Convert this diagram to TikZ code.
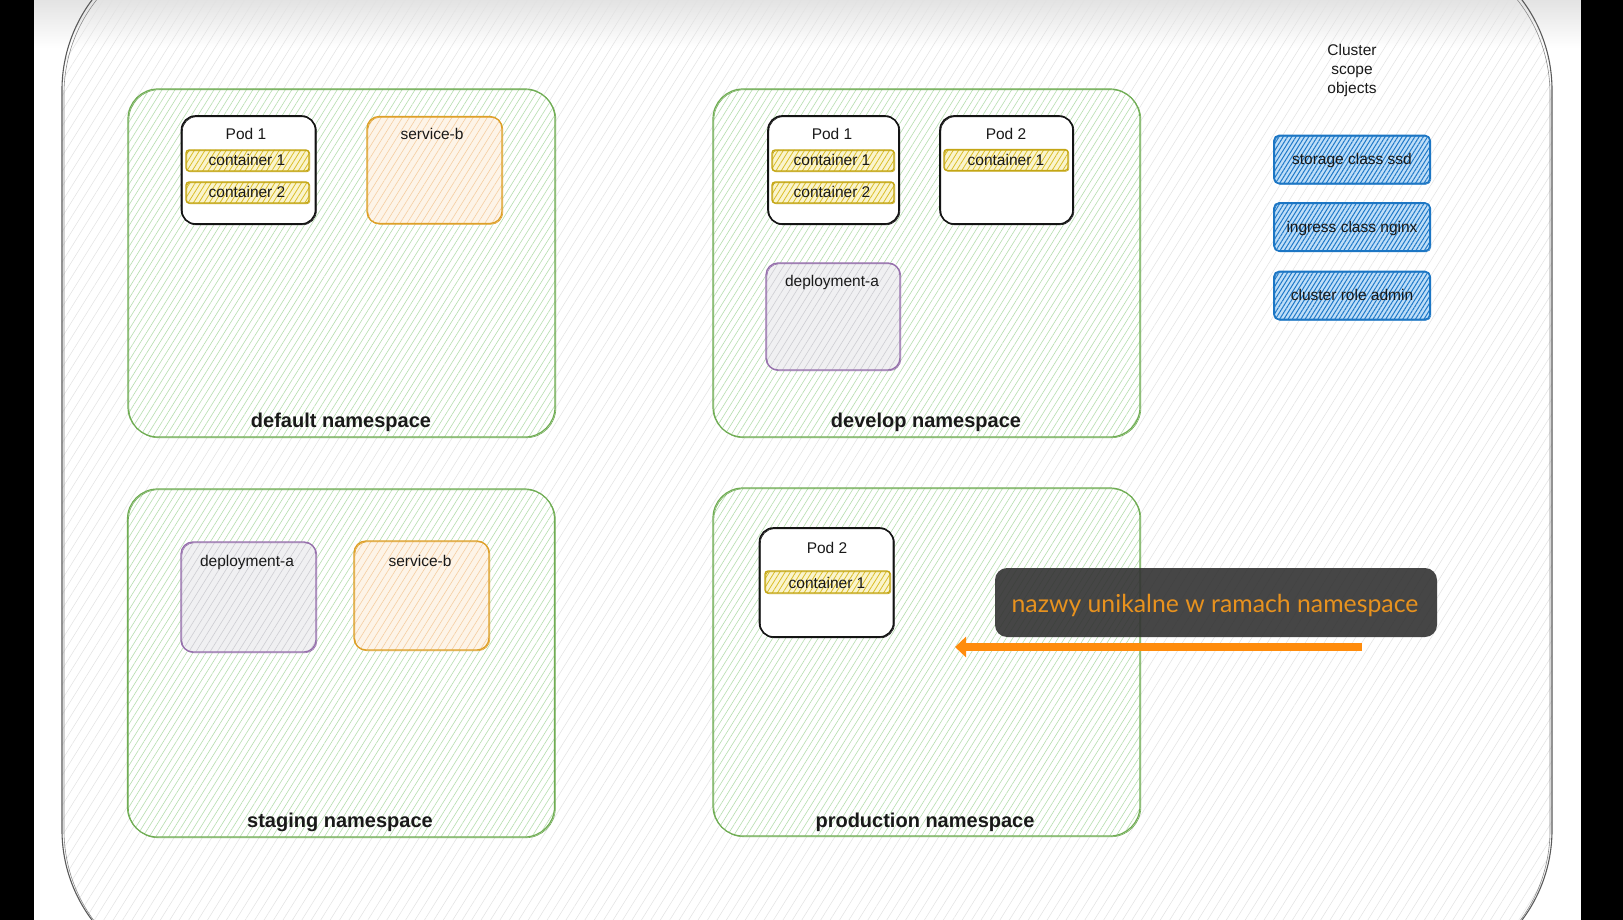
\documentclass[tikz,border=0pt]{standalone}
\usepackage{fontspec}
\setmainfont{Liberation Sans}
\newfontfamily\callfont{Lato}
\usetikzlibrary{patterns.meta,arrows.meta}
\definecolor{nsgreen}{RGB}{112,173,84}
\definecolor{hgreen}{RGB}{182,222,175}
\definecolor{bghatch}{RGB}{226,226,226}
\definecolor{cyel}{RGB}{196,166,20}
\definecolor{cyelh}{RGB}{218,190,40}
\definecolor{cyelbg}{RGB}{250,244,205}
\definecolor{sorange}{RGB}{222,160,40}
\definecolor{sorangeh}{RGB}{245,205,160}
\definecolor{sorangebg}{RGB}{253,244,232}
\definecolor{dpurple}{RGB}{150,112,172}
\definecolor{dgrayh}{RGB}{205,205,210}
\definecolor{dgraybg}{RGB}{240,240,242}
\definecolor{cblue}{RGB}{28,118,196}
\definecolor{cblueh}{RGB}{30,120,200}
\definecolor{cbluebg}{RGB}{190,222,248}
\definecolor{callbg}{RGB}{50,50,50}
\definecolor{callorange}{RGB}{232,146,30}
\definecolor{arrorange}{RGB}{255,140,12}
\definecolor{outerline}{RGB}{90,90,90}
\begin{document}
\begin{tikzpicture}[x=1pt,y=-1pt,
  every node/.style={font=\fontsize{15.5}{19}\selectfont, text=black!90, inner sep=0pt, outer sep=0pt},
  sk/.style={postaction={draw, line width=0.6pt, transform canvas={shift={(0.9pt,-0.8pt)}}}},
  nsbox/.style={draw=nsgreen, line width=1.2pt, rounded corners=30pt, preaction={fill=white},
    pattern={Lines[angle=58,distance=5.5pt,line width=0.6pt]}, pattern color=hgreen,
    minimum width=427pt, minimum height=348pt, sk},
  nslabel/.style={anchor=base, font=\fontsize{20}{24}\selectfont\bfseries},
  podbox/.style={draw=black!92, line width=1.6pt, rounded corners=14pt, fill=white,
    minimum width=134pt, minimum height=108pt, sk},
  contbox/.style={draw=cyel, line width=1.3pt, rounded corners=3pt, preaction={fill=cyelbg},
    pattern={Lines[angle=58,distance=4.5pt,line width=0.8pt]}, pattern color=cyelh,
    minimum width=123pt, minimum height=21pt, sk},
  svcbox/.style={draw=sorange, line width=1.3pt, rounded corners=12pt, preaction={fill=sorangebg},
    pattern={Lines[angle=58,distance=6pt,line width=0.6pt]}, pattern color=sorangeh,
    minimum width=135pt, minimum height=107pt, sk},
  depbox/.style={draw=dpurple, line width=1.3pt, rounded corners=12pt, preaction={fill=dgraybg},
    pattern={Lines[angle=58,distance=6pt,line width=0.6pt]}, pattern color=dgrayh,
    minimum width=135pt, minimum height=108pt, sk},
  cbox/.style={draw=cblue, line width=1.6pt, rounded corners=5pt, preaction={fill=cbluebg},
    pattern={Lines[angle=58,distance=3.6pt,line width=1pt]}, pattern color=cblueh,
    minimum width=156pt, minimum height=48pt, sk},
  txt/.style={anchor=base}
]
\useasboundingbox (0,0) rectangle (1623,920);
\fill[white] (0,0) rectangle (1623,920);
\shade[top color=black!11, bottom color=white] (34,0) rectangle (1581,48);
% outer cluster frame
\path[pattern={Lines[angle=58,distance=8pt,line width=0.5pt]}, pattern color=bghatch, rounded corners=150pt]
  (62,-60) rectangle (1552,980);
\draw[outerline, line width=1.1pt, rounded corners=150pt] (62,-60) rectangle (1552,980);
\draw[outerline!70, line width=0.6pt, rounded corners=152pt] (64,-58) rectangle (1550,982);
% black side bars
\fill[black] (0,0) rectangle (34,920);
\fill[black] (1581,0) rectangle (1623,920);

% namespaces
\node[nsbox] (nsdef) at (341.5,263) {};
\node[nsbox] (nsdev) at (926.5,263) {};
\node[nsbox] (nsstg) at (341,663) {};
\node[nsbox] (nsprd) at (926.5,662) {};
\node[nslabel] (lnsdef) at (341,427) {default namespace};
\node[nslabel] (lnsdev) at (926,427) {develop namespace};
\node[nslabel] (lnsstg) at (340,827) {staging namespace};
\node[nslabel] (lnsprd) at (925,827) {production namespace};

% default namespace content
\node[podbox] (dpod1) at (248.5,170) {};
\node[txt] (tdpod1) at (246,140) {Pod 1};
\node[contbox] (dc1) at (247.5,160.5) {};
\node[txt] (tdc1) at (247,166) {container 1};
\node[contbox] (dc2) at (247.5,192.5) {};
\node[txt] (tdc2) at (247,198) {container 2};
\node[svcbox] (dsvc) at (434.5,170) {};
\node[txt] (tdsvc) at (432,140) {service-b};

% develop namespace content
\node[podbox, minimum width=131pt] (vpod1) at (833.5,170) {};
\node[txt] (tvpod1) at (832,140) {Pod 1};
\node[contbox, minimum width=122pt] (vc1) at (833,160.5) {};
\node[txt] (tvc1) at (832,166) {container 1};
\node[contbox, minimum width=122pt] (vc2) at (833,192.5) {};
\node[txt] (tvc2) at (832,198) {container 2};
\node[podbox, minimum width=133pt] (vpod2) at (1006.5,170) {};
\node[txt] (tvpod2) at (1006,140) {Pod 2};
\node[contbox, minimum width=124pt] (vc3) at (1006,160) {};
\node[txt] (tvc3) at (1006,166) {container 1};
\node[depbox, minimum width=134pt, minimum height=107pt] (vdep) at (833,316.5) {};
\node[txt] (tvdep) at (832,287) {deployment-a};

% staging namespace content
\node[depbox, minimum height=110pt] (sdep) at (248.5,597) {};
\node[txt] (tsdep) at (247,566) {deployment-a};
\node[svcbox, minimum height=109pt] (ssvc) at (421.5,595.5) {};
\node[txt] (tssvc) at (420,566) {service-b};

% production namespace content
\node[podbox, minimum height=109pt] (ppod2) at (826.5,582.5) {};
\node[txt] (tppod2) at (827,553) {Pod 2};
\node[contbox, minimum width=125pt, minimum height=22pt] (pc1) at (827.5,582) {};
\node[txt] (tpc1) at (827,588) {container 1};

% cluster scope objects
\node[align=center] (cso) at (1352,70) {Cluster\\scope\\objects};
\node[cbox] (cb1) at (1352,159.5) {};
\node[txt] (tcb1) at (1352,165) {storage class ssd};
\node[cbox] (cb2) at (1352,227) {};
\node[txt] (tcb2) at (1352,232.5) {ingress class nginx};
\node[cbox] (cb3) at (1352,295.5) {};
\node[txt] (tcb3) at (1352,301) {cluster role admin};

% callout
\node[fill=callbg, fill opacity=0.9, rounded corners=12pt, minimum width=442pt, minimum height=69pt] (call) at (1216,602.5) {};
\node[txt, font=\fontsize{24.8}{28}\callfont, text=callorange] (tcall) at (1215,612) {nazwy unikalne w ramach namespace};
\coordinate (arS) at (1362,647);
\coordinate (arE) at (955,647);
\draw[arrorange, line width=8pt, -{Triangle[length=11pt,width=20pt]}] (arS) -- (arE);
\end{tikzpicture}
\end{document}
